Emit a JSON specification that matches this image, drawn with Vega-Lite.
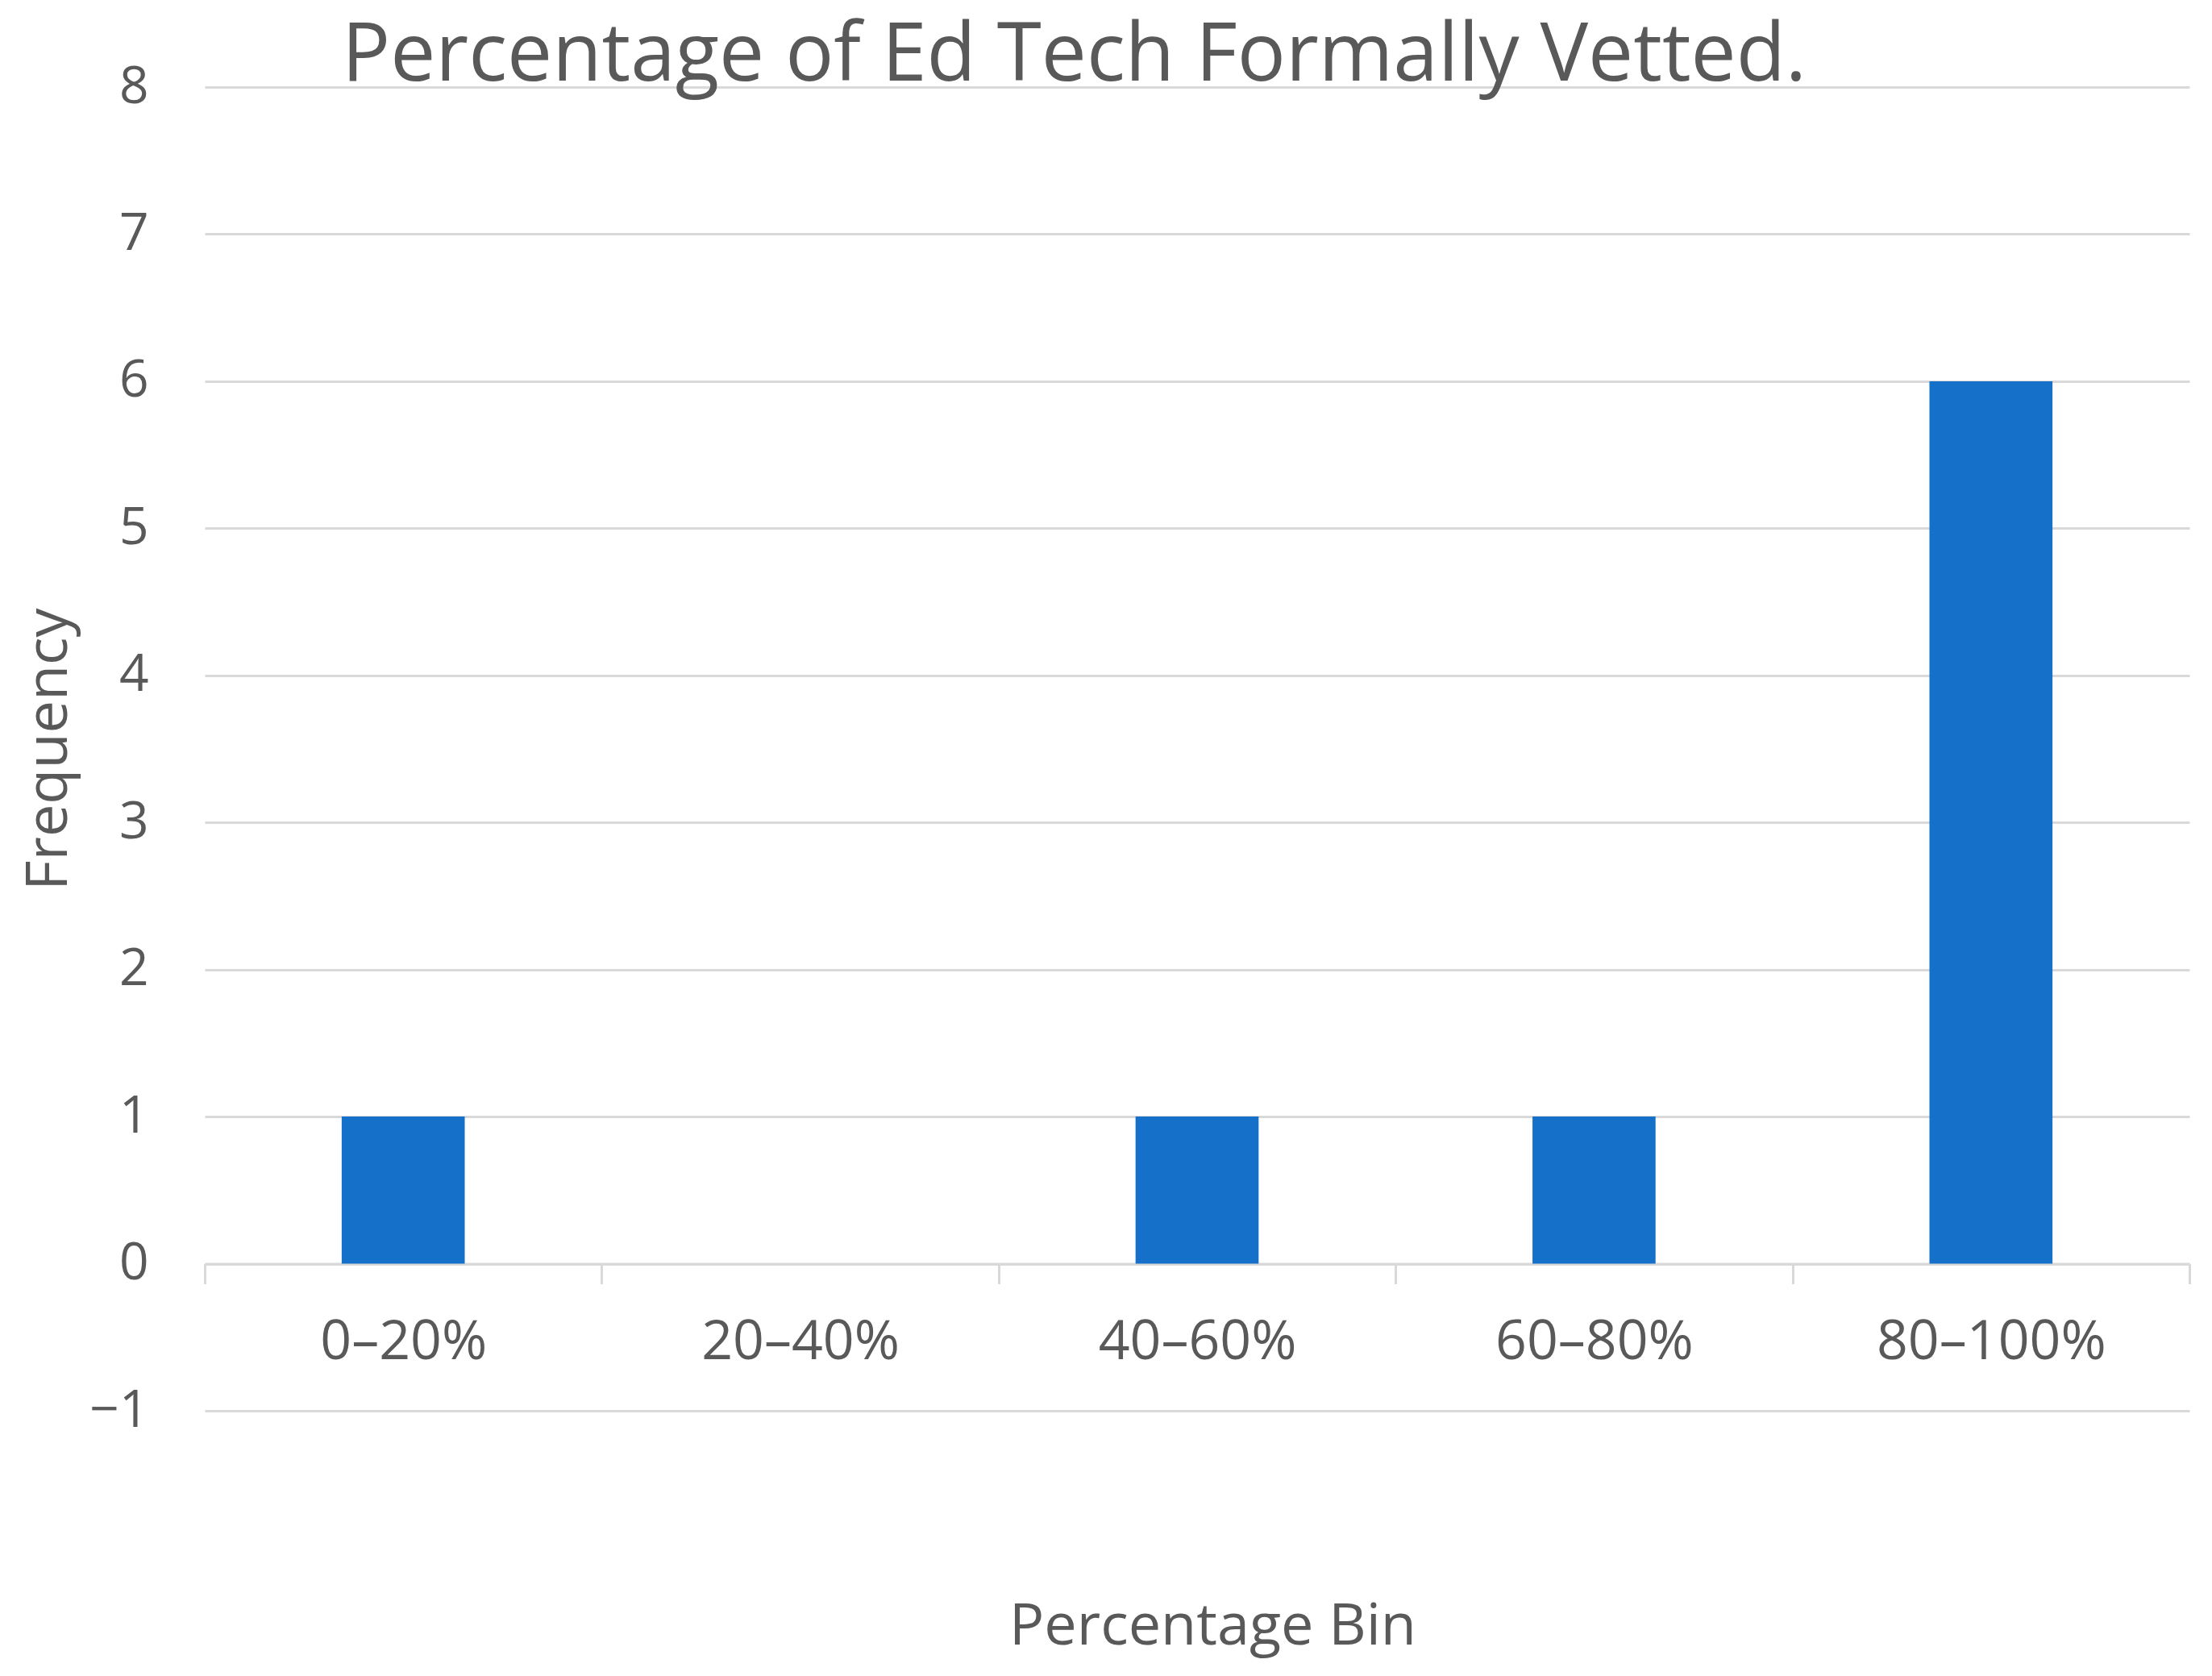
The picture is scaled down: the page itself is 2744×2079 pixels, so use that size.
{
  "$schema": "https://vega.github.io/schema/vega-lite/v6.json",
  "width": 2462,
  "height": 1642,
  "autosize": {"type": "none"},
  "padding": {"left": 254, "top": 108, "right": 28, "bottom": 329},
  "background": "white",
  "title": {
    "text": "Percentage of Ed Tech Formally Vetted.",
    "font": "Open Sans",
    "fontSize": 100,
    "fontWeight": "normal",
    "color": "#595959",
    "anchor": "start",
    "frame": "group",
    "dx": 170,
    "dy": 124,
    "baseline": "alphabetic",
    "offset": 0
  },
  "data": {
    "values": [
      {"bin": "0–20%", "frequency": 1},
      {"bin": "20–40%", "frequency": 0},
      {"bin": "40–60%", "frequency": 1},
      {"bin": "60–80%", "frequency": 1},
      {"bin": "80–100%", "frequency": 6}
    ]
  },
  "mark": {"type": "bar", "color": "#1570C9", "width": {"band": 0.31}},
  "encoding": {
    "x": {
      "field": "bin",
      "type": "nominal",
      "sort": null,
      "scale": {"paddingInner": 0, "paddingOuter": 0},
      "axis": {
        "title": "Percentage Bin",
        "labelAngle": 0,
        "labelLimit": 0,
        "offset": -182.5,
        "tickBand": "extent",
        "tickSize": 25,
        "tickWidth": 3,
        "tickColor": "#d9d9d9",
        "domainColor": "#d9d9d9",
        "domainWidth": 3,
        "labelFont": "Open Sans",
        "labelFontSize": 68,
        "labelColor": "#595959",
        "labelBaseline": "alphabetic",
        "labelPadding": 93,
        "titleFont": "Open Sans",
        "titleFontSize": 72,
        "titleFontWeight": "normal",
        "titleColor": "#595959",
        "titleBaseline": "middle",
        "titleY": 450,
        "titleX": 1250
      }
    },
    "y": {
      "field": "frequency",
      "type": "quantitative",
      "scale": {"domain": [-1, 8], "nice": false, "zero": false},
      "axis": {
        "title": "Frequency",
        "values": [-1, 0, 1, 2, 3, 4, 5, 6, 7, 8],
        "format": "d",
        "ticks": false,
        "domain": false,
        "grid": true,
        "gridColor": "#d9d9d9",
        "gridWidth": 3,
        "labelFont": "Open Sans",
        "labelFontSize": 64,
        "labelColor": "#595959",
        "labelPadding": 70,
        "titleFont": "Open Sans",
        "titleFontSize": 72,
        "titleFontWeight": "normal",
        "titleColor": "#595959",
        "titleAngle": -90,
        "titleBaseline": "middle",
        "titleX": -194,
        "titleY": 821
      }
    },
    "y2": {"datum": 0}
  },
  "config": {"view": {"stroke": null}}
}
